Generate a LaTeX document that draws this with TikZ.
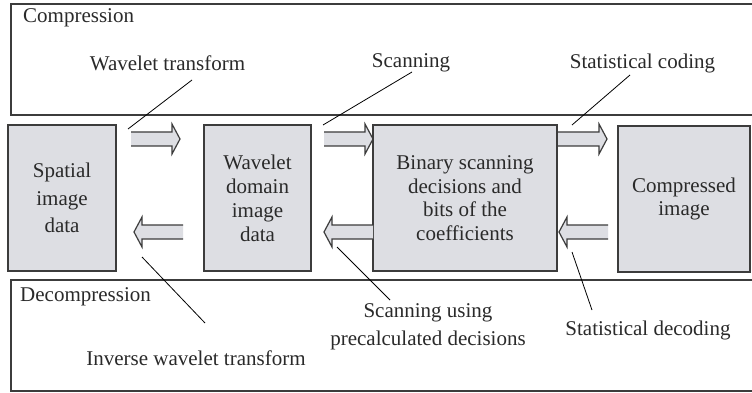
\documentclass[tikz,border=0pt]{standalone}
\usepackage{fontspec}
\setmainfont{Liberation Serif}
\definecolor{boxfill}{HTML}{DDDEE3}
\definecolor{edge}{HTML}{3C3C3C}
\definecolor{ink}{HTML}{2A2A2A}
\newcommand\fatR[2]{%
  \fill[boxfill] ({#1},{#2-7}) -- ({#1+41},{#2-7}) -- ({#1+41},{#2-15}) -- ({#1+49},{#2}) -- ({#1+41},{#2+15}) -- ({#1+41},{#2+7}) -- ({#1},{#2+7}) -- cycle;
  \draw[arrline] ({#1},{#2-7}) -- ({#1+41},{#2-7}) -- ({#1+41},{#2-15}) -- ({#1+49},{#2}) -- ({#1+41},{#2+15}) -- ({#1+41},{#2+7}) -- ({#1},{#2+7});}
\newcommand\fatL[2]{%
  \fill[boxfill] ({#1},{#2-7}) -- ({#1-41},{#2-7}) -- ({#1-41},{#2-15}) -- ({#1-49},{#2}) -- ({#1-41},{#2+15}) -- ({#1-41},{#2+7}) -- ({#1},{#2+7}) -- cycle;
  \draw[arrline] ({#1},{#2-7}) -- ({#1-41},{#2-7}) -- ({#1-41},{#2-15}) -- ({#1-49},{#2}) -- ({#1-41},{#2+15}) -- ({#1-41},{#2+7}) -- ({#1},{#2+7});}
\begin{document}
\begin{tikzpicture}[x=1pt,y=-1pt,
  frame/.style={draw=edge,line width=1.3pt},
  databox/.style={draw=edge,line width=1.3pt,fill=boxfill,text=ink,align=center,
    minimum height=146pt,inner sep=0pt,font=\fontsize{21}{24}\selectfont},
  lbl/.style={text=ink,inner sep=0pt,font=\fontsize{21}{28}\selectfont,align=center},
  leader/.style={draw=black,line width=0.8pt},
  arrline/.style={draw=edge,line width=1.2pt,line join=miter}]
\useasboundingbox (0,0) rectangle (752,393);
\clip (0,0) rectangle (752,393);
\fill[white] (0,0) rectangle (752,393);
% frames
\draw[frame] (11,4) rectangle (770,115);
\draw[frame] (11,280) rectangle (770,391);
\node[lbl,anchor=west] (comp) at (23,18) {Compression};
\node[lbl,anchor=west] (decomp) at (20,297) {Decompression};
% data boxes
\node[databox,minimum width=108pt,font=\fontsize{21}{27.5}\selectfont] (spatial) at (62,198) {Spatial\\image\\data};
\node[databox,minimum width=107pt] (wdomain) at (257.5,198) {Wavelet\\domain\\image\\data};
\node[databox,minimum width=184pt,font=\fontsize{21}{23.5}\selectfont] (binary) at (465,198) {Binary scanning\\decisions and\\bits of the\\coefficients};
\node[databox,minimum width=132pt,font=\fontsize{21}{23}\selectfont] (compressed) at (684,199) {Compressed\\image};
% arrows
\fatR{131}{139}
\fatR{324}{139}
\fatR{558}{139}
\fatL{183}{232}
\fatL{373}{232}
\fatL{608}{232}
% labels
\node[lbl] (wt) at (167.5,63) {Wavelet transform};
\node[lbl] (sc) at (411,63) {Scanning};
\node[lbl] (stc) at (642.5,63) {Statistical coding};
\node[lbl] (iwt) at (196,358) {Inverse wavelet transform};
\node[lbl] (scu) at (428,327) {Scanning using\\precalculated decisions};
\node[lbl] (std) at (648,330) {Statistical decoding};
% leader lines
\coordinate (wtA) at (192,80);  \coordinate (wtB) at (128,129);
\coordinate (scA) at (412,72);  \coordinate (scB) at (323,125);
\coordinate (stcA) at (630,75); \coordinate (stcB) at (572,125);
\coordinate (iwtA) at (205,323); \coordinate (iwtB) at (142,257);
\coordinate (scuA) at (390,300); \coordinate (scuB) at (337,247);
\coordinate (stdA) at (592,310); \coordinate (stdB) at (572,252);
\draw[leader] (wtA) -- (wtB);
\draw[leader] (scA) -- (scB);
\draw[leader] (stcA) -- (stcB);
\draw[leader] (iwtA) -- (iwtB);
\draw[leader] (scuA) -- (scuB);
\draw[leader] (stdA) -- (stdB);
\end{tikzpicture}
\end{document}
